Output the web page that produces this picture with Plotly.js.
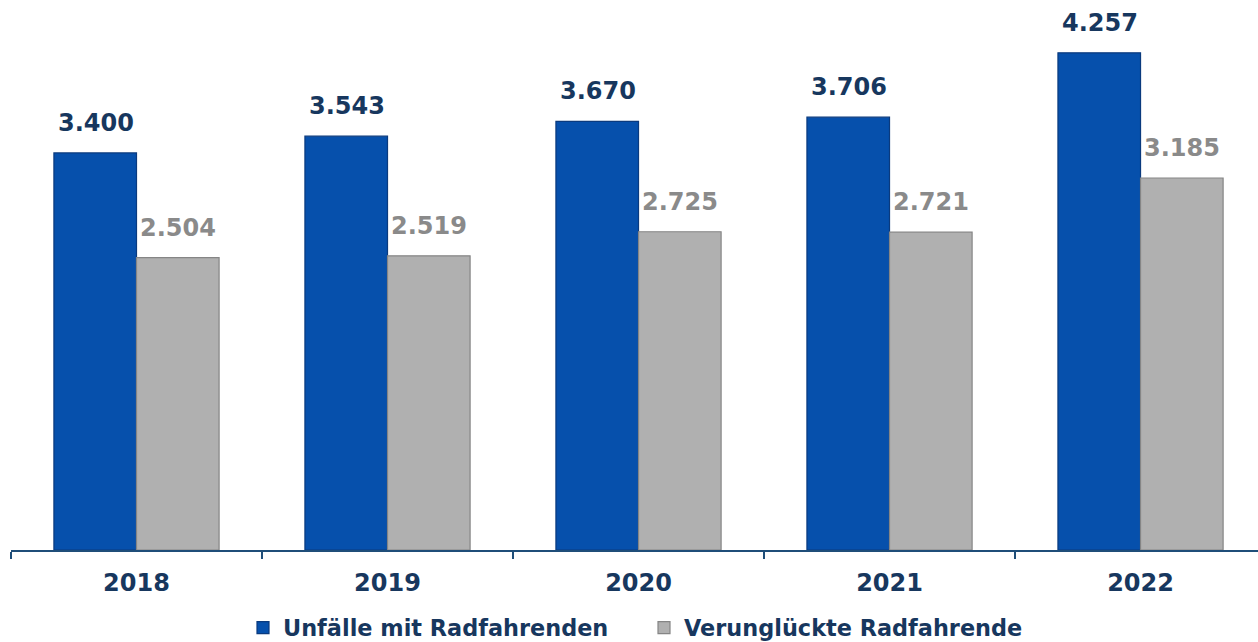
<!DOCTYPE html>
<html>
<head>
<meta charset="utf-8">
<script src="https://cdn.plot.ly/plotly-3.0.1.min.js"></script>
<style>html,body{margin:0;padding:0;background:#fff;}#chart{width:1258px;height:642px;}</style>
</head>
<body>
<div id="chart"></div>
<script>
var years = ['2018', '2019', '2020', '2021', '2022'];
var unfaelle = [3400, 3543, 3670, 3706, 4257];
var verunglueckte = [2504, 2519, 2725, 2721, 3185];
var seriesNames = ['Unfälle mit Radfahrenden', 'Verunglückte Radfahrende'];

function fmt(v) {
  return String(v).replace(/\B(?=(\d{3})+(?!\d))/g, '.');
}

var FONT = 'DejaVu Sans, Verdana, sans-serif';
var NAVY = '#17375e';
var GRAYTXT = '#8a8a8a';

var traces = [
  {
    type: 'bar', name: seriesNames[0], x: years, y: unfaelle,
    marker: {color: '#0650ac', line: {color: '#0a3a7e', width: 1.2}},
    hoverinfo: 'skip'
  },
  {
    type: 'bar', name: seriesNames[1], x: years, y: verunglueckte,
    marker: {color: '#b0b0b0', line: {color: '#858585', width: 1.2}},
    hoverinfo: 'skip'
  }
];

var annotations = [];
years.forEach(function (yr, i) {
  annotations.push({
    x: i, y: unfaelle[i], xref: 'x', yref: 'y', text: fmt(unfaelle[i]),
    showarrow: false, yanchor: 'bottom', xanchor: 'center', xshift: -41, yshift: 14,
    font: {family: FONT, size: 24, color: NAVY, weight: 'bold'}
  });
  annotations.push({
    x: i, y: verunglueckte[i], xref: 'x', yref: 'y', text: fmt(verunglueckte[i]),
    showarrow: false, yanchor: 'bottom', xanchor: 'center', xshift: 41, yshift: 14,
    font: {family: FONT, size: 24, color: GRAYTXT, weight: 'bold'}
  });
});

var layout = {
  width: 1258, height: 642,
  margin: {l: 11, r: 0, t: 0, b: 92, pad: 0, autoexpand: false},
  paper_bgcolor: '#ffffff', plot_bgcolor: '#ffffff',
  barmode: 'group', bargap: 0.342, bargroupgap: 0,
  showlegend: true,
  legend: {
    orientation: 'h', xref: 'container', yref: 'container',
    x: 243 / 1258, xanchor: 'left', y: 14 / 642, yanchor: 'middle',
    entrywidth: 356, entrywidthmode: 'pixels',
    font: {family: FONT, size: 22.4, color: NAVY, weight: 'bold'},
    itemclick: false, itemdoubleclick: false, traceorder: 'normal'
  },
  xaxis: {
    type: 'category', range: [-0.5, 4.468], autorange: false, automargin: false,
    showline: true, linecolor: '#1f4e79', linewidth: 2,
    ticks: 'outside', tickson: 'boundaries', ticklen: 7, tickwidth: 2, tickcolor: '#1f4e79',
    ticklabelstandoff: 10,
    showgrid: false, zeroline: false, tickangle: 0,
    tickfont: {family: FONT, size: 24, color: NAVY, weight: 'bold'},
    fixedrange: true
  },
  yaxis: {
    range: [0, 4709], autorange: false, automargin: false, visible: false,
    showgrid: false, zeroline: false, fixedrange: true
  },
  annotations: annotations
};

Plotly.newPlot('chart', traces, layout, {displayModeBar: false, staticPlot: true});
</script>
</body>
</html>
